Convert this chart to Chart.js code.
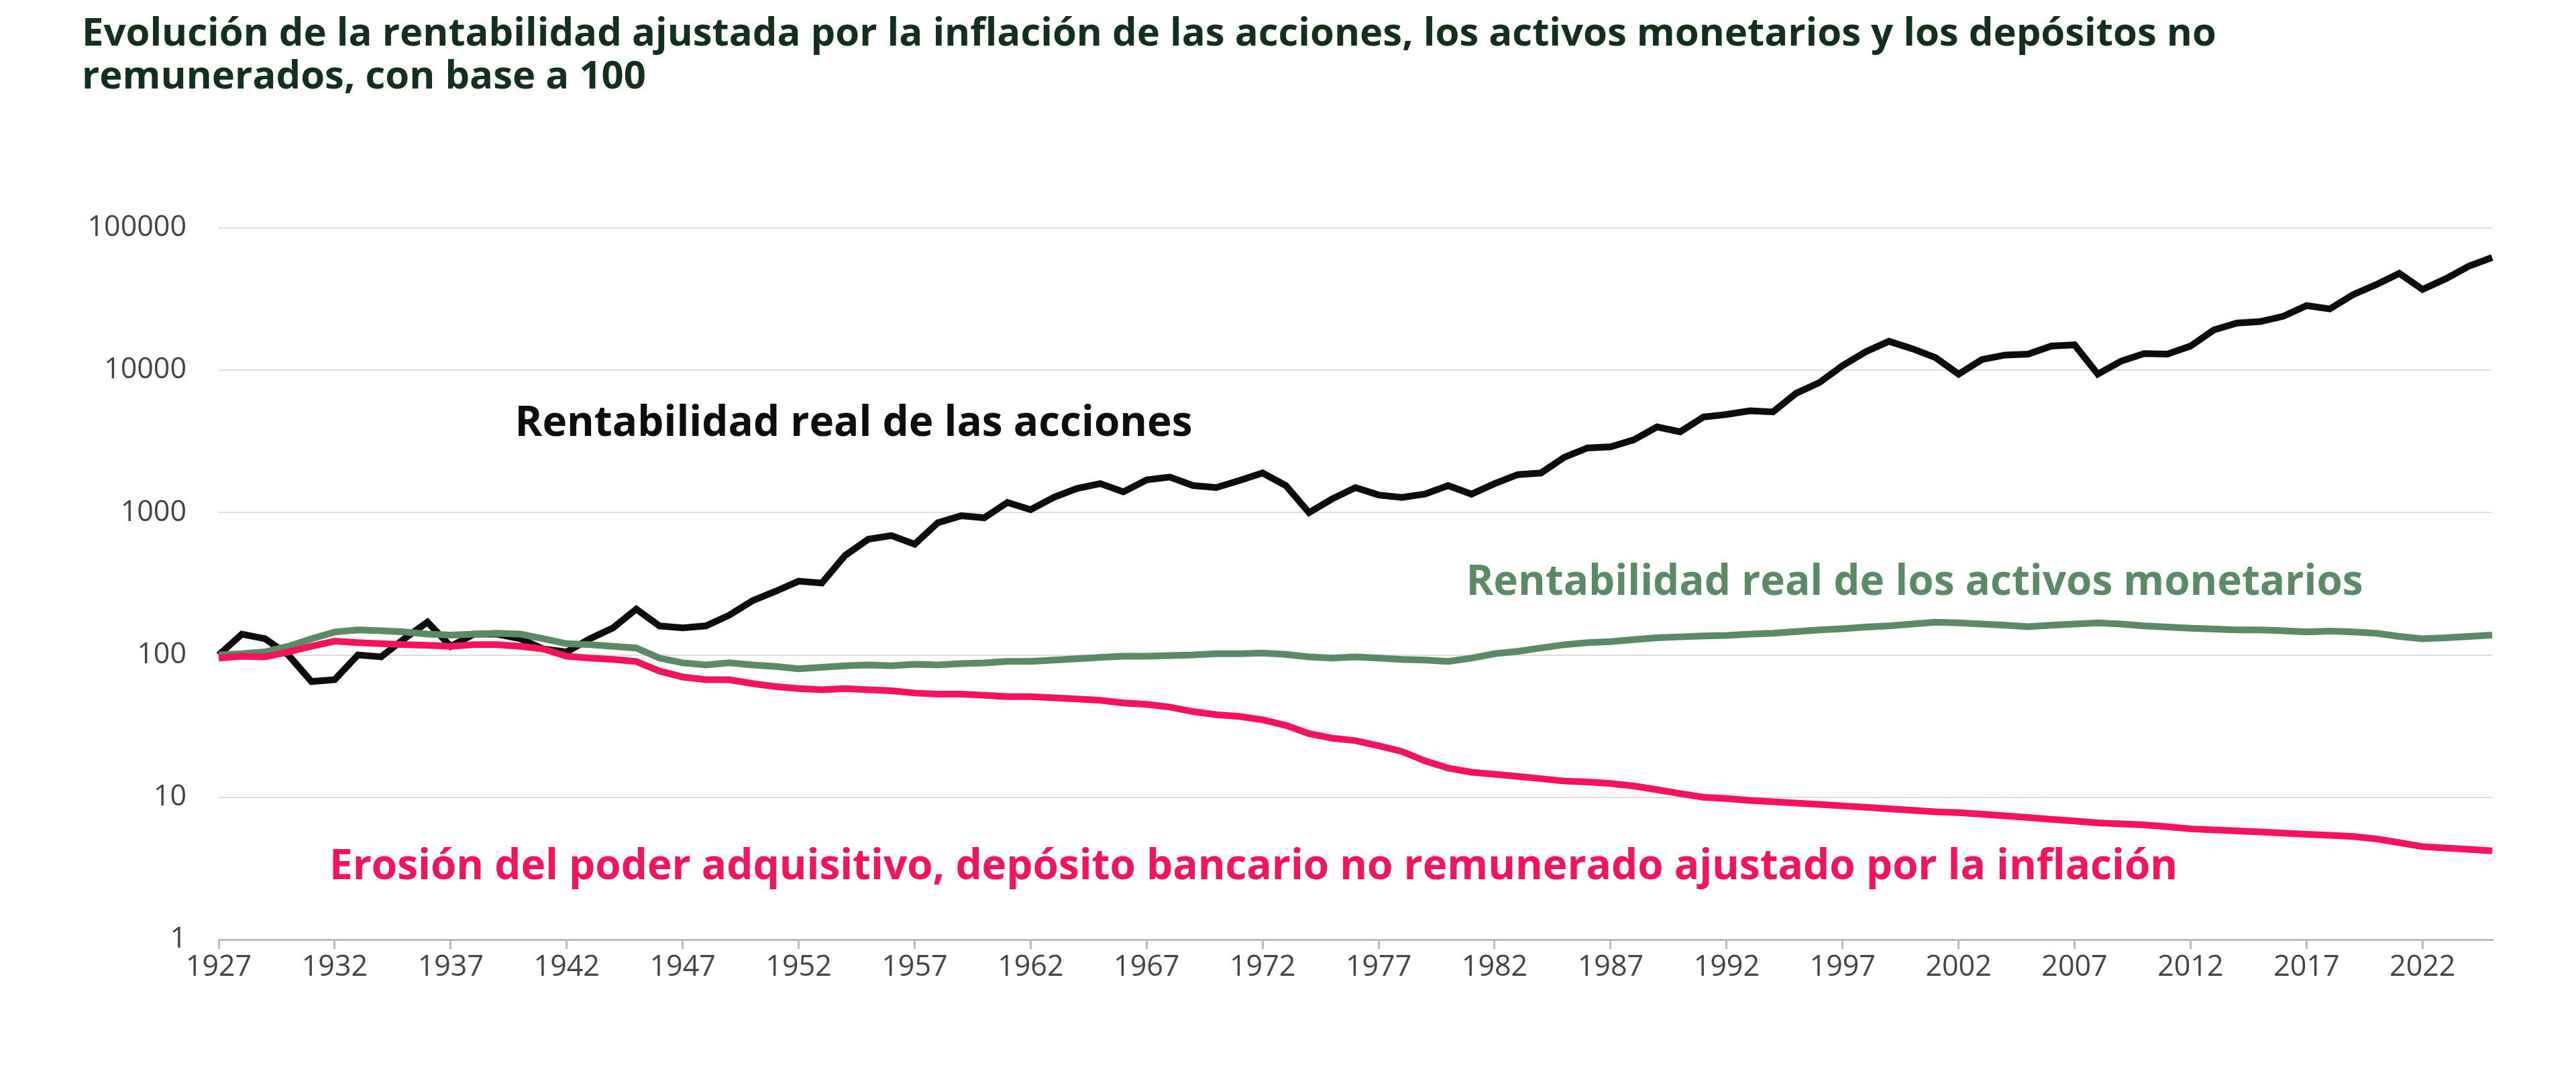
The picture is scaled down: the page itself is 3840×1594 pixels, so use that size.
<!DOCTYPE html>
<html>
<head>
<meta charset="utf-8">
<script src="https://cdn.jsdelivr.net/npm/chart.js@4"></script>
<style>
  html, body { margin: 0; padding: 0; background: #fff; }
  #wrap { position: relative; width: 3840px; height: 1594px; }
  #title { position: absolute; left: 122px; top: 14px; font: bold 58px "Open Sans", sans-serif; color: #12301c; line-height: 64px; width: 3700px; }
  canvas { position: absolute; left: 0; top: 0; }
</style>
</head>
<body>
<div id="wrap">
  <div id="title">Evolución de la rentabilidad ajustada por la inflación de las acciones, los activos monetarios y los depósitos no<br>remunerados, con base a 100</div>
  <canvas id="c" width="3840" height="1594"></canvas>
</div>
<script>
// --- Datos ---
const years = [];
for (let y = 1927; y <= 2025; y++) years.push(String(y));

const stocks = [100,140,130,100,65,67,100,97,130,170,115,140,140,130,110,105,130,155,210,160,
  155,160,190,240,280,330,320,500,650,690,600,850,950,920,1180,1050,1280,1480,1600,1400,
  1700,1780,1550,1500,1680,1900,1550,1000,1250,1500,1330,1280,1350,1550,1350,1600,1850,1900,2450,2850,
  2900,3250,4000,3700,4700,4900,5200,5100,6900,8200,10800,13500,16000,14200,12300,9400,11900,12800,13000,14800,
  15100,9400,11600,13100,13000,14800,19200,21500,22000,24000,28500,27000,34000,40000,48000,37000,44000,54000,62000];

const monetary = [100,102,105,115,130,145,150,148,145,140,138,140,142,140,130,120,118,115,112,95,
  88,85,88,85,83,80,82,84,85,84,86,85,87,88,90,90,92,94,96,98,
  98,99,100,102,102,103,101,97,95,97,95,93,92,90,95,102,106,112,118,122,
  124,128,132,134,136,137,140,142,146,150,153,157,160,165,170,168,165,162,158,162,
  165,168,165,160,157,154,152,150,150,148,145,147,145,142,135,130,132,135,138];

const deposits = [95,98,97,105,115,125,122,120,118,117,115,118,118,115,110,98,95,93,90,77,
  70,67,67,63,60,58,57,58,57,56,54,53,53,52,51,51,50,49,48,46,
  45,43,40,38,37,35,32,28,26,25,23,21,18,16,15,14.5,14,13.5,13,12.8,
  12.5,12,11.3,10.6,10,9.8,9.5,9.3,9.1,8.9,8.7,8.5,8.3,8.1,7.9,7.8,7.6,7.4,7.2,7.0,
  6.8,6.6,6.5,6.4,6.2,6.0,5.9,5.8,5.7,5.6,5.5,5.4,5.3,5.1,4.8,4.5,4.4,4.3,4.2];

const yTicks = [1, 10, 100, 1000, 10000, 100000];

const BLACK = '#0d0d0d';
const GREEN = '#5b8a66';
const RED = '#f5145a';

// --- Etiquetas dentro del gráfico ---
const labelsPlugin = {
  id: 'seriesLabels',
  afterDatasetsDraw(chart) {
    const ctx = chart.ctx;
    const x = chart.scales.x, y = chart.scales.y;
    const items = [
      ['Rentabilidad real de las acciones', BLACK, '1940', 4200],
      ['Rentabilidad real de los activos monetarios', GREEN, '1981', 320],
      ['Erosión del poder adquisitivo, depósito bancario no remunerado ajustado por la inflación', RED, '1932', 3.2]
    ];
    ctx.save();
    ctx.font = 'bold 62px "Open Sans", sans-serif';
    ctx.textBaseline = 'middle';
    ctx.textAlign = 'left';
    items.forEach(([t, c, yr, v]) => {
      ctx.fillStyle = c;
      ctx.fillText(t, x.getPixelForValue(yr) - 8, y.getPixelForValue(v));
    });
    ctx.restore();
  }
};

const ds = (data, color) => ({ data, borderColor: color, borderWidth: 10, pointRadius: 0, tension: 0, fill: false });

new Chart(document.getElementById('c'), {
  type: 'line',
  data: { labels: years, datasets: [ds(deposits, RED), ds(monetary, GREEN), ds(stocks, BLACK)] },
  options: {
    responsive: false,
    animation: false,
    layout: { padding: { top: 340, right: 125, left: 0, bottom: 0 } },
    plugins: { legend: { display: false }, tooltip: { enabled: false } },
    scales: {
      x: {
        grid: {
          drawOnChartArea: false, tickLength: 14, lineWidth: 3,
          color: c => (c.index % 5 === 0 ? '#bbb' : 'rgba(0,0,0,0)')
        },
        border: { color: '#bbb', width: 3 },
        ticks: {
          autoSkip: false, maxRotation: 0, color: '#444',
          font: { family: '"Open Sans", sans-serif', size: 43 },
          padding: 2,
          callback: (v, i) => (i % 5 === 0 ? years[i] : '')
        },
        afterFit: s => { s.height = 193; }
      },
      y: {
        type: 'logarithmic', min: 1, max: 100000,
        afterBuildTicks: s => { s.ticks = yTicks.map(v => ({ value: v })); },
        grid: { color: '#dddddd', lineWidth: 2, drawTicks: false },
        border: { display: false },
        ticks: {
          color: '#444', padding: 48,
          font: { family: '"Open Sans", sans-serif', size: 43 },
          callback: v => String(v)
        },
        afterFit: s => { s.width = 326; }
      }
    }
  },
  plugins: [labelsPlugin]
});
</script>
</body>
</html>
